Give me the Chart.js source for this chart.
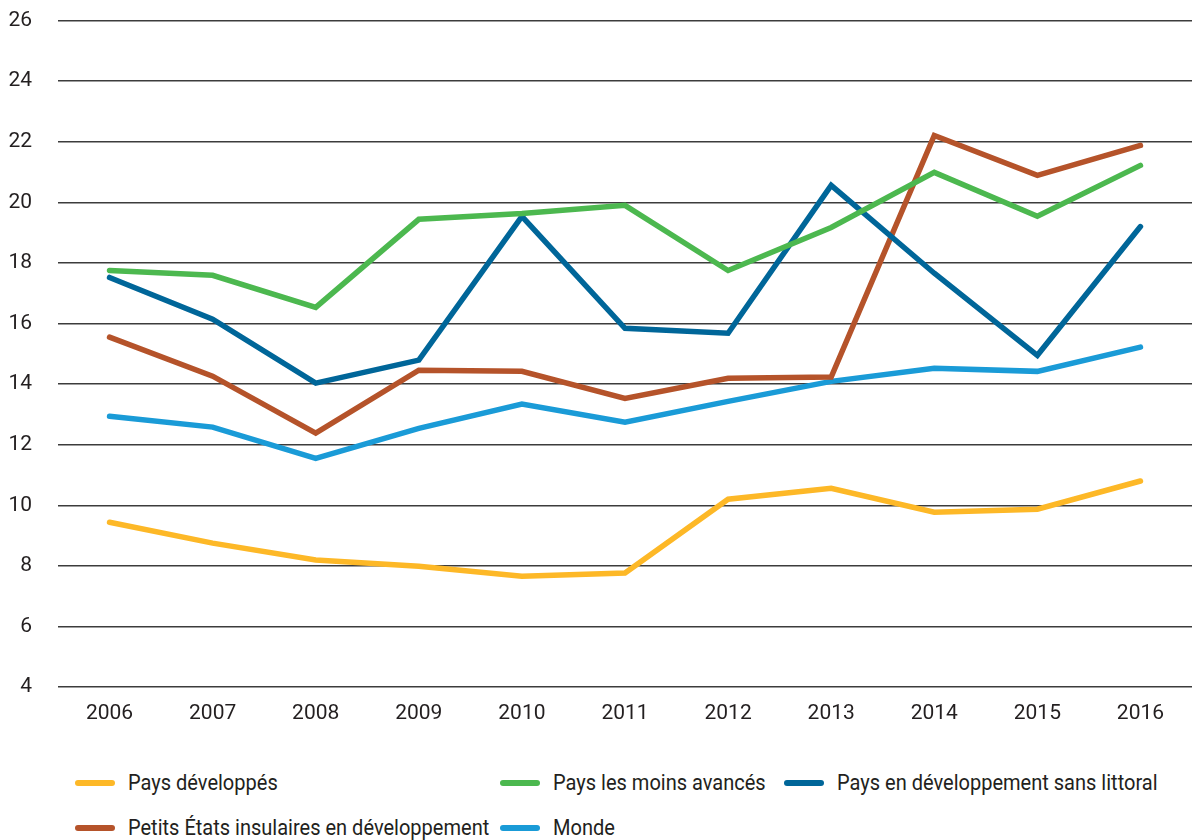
<!DOCTYPE html>
<html lang="fr">
<head>
<meta charset="utf-8">
<script src="https://cdn.jsdelivr.net/npm/chart.js@4"></script>
<style>
  html, body { margin: 0; padding: 0; background: #fff; }
  #wrap { position: relative; width: 1192px; height: 840px; overflow: hidden; font-family: "Roboto", "Liberation Sans", sans-serif; }
  #chartBox { position: absolute; left: 0; top: -18px; width: 1192px; height: 758px; }
  .leg { position: absolute; display: flex; align-items: center; font-size: 22px; color: #231f20; white-space: nowrap; }
  .leg .sw { width: 40px; height: 6px; border-radius: 3px; margin-right: 13px; }
  .leg .tx { display: inline-block; transform-origin: left center; transform: scaleX(0.91); }
</style>
</head>
<body>
<div id="wrap">
  <div id="chartBox"><canvas id="c" width="1192" height="758"></canvas></div>
  <div id="legend"></div>
</div>
<script>
// Years on the horizontal axis
const years = ['2006', '2007', '2008', '2009', '2010', '2011', '2012', '2013', '2014', '2015', '2016'];

// Series values
const paysDeveloppes = [9.44, 8.75, 8.19, 7.99, 7.66, 7.76, 10.2, 10.56, 9.77, 9.87, 10.8];
const paysMoinsAvances = [17.75, 17.59, 16.53, 19.44, 19.63, 19.9, 17.75, 19.17, 20.99, 19.54, 21.22];
const paysSansLittoral = [17.52, 16.14, 14.03, 14.79, 19.54, 15.84, 15.68, 20.56, 17.66, 14.95, 19.2];
const petitsEtatsInsulaires = [15.55, 14.26, 12.38, 14.46, 14.42, 13.53, 14.19, 14.23, 22.21, 20.89, 21.88];
const monde = [12.94, 12.58, 11.55, 12.54, 13.34, 12.74, 13.43, 14.09, 14.52, 14.42, 15.22];

// Y axis range and step
const yMin = 4, yMax = 26, yStep = 2;

const FONT = '"Roboto", "Liberation Sans", sans-serif';

const series = [
  { label: 'Pays développés', data: paysDeveloppes, color: '#fdb827' },
  { label: 'Pays les moins avancés', data: paysMoinsAvances, color: '#4cb84f' },
  { label: 'Pays en développement sans littoral', data: paysSansLittoral, color: '#006699' },
  { label: 'Petits États insulaires en développement', data: petitsEtatsInsulaires, color: '#b5532a' },
  { label: 'Monde', data: monde, color: '#1a9bd7' }
];

// Drawing order: later datasets sit on top
const drawOrder = [4, 0, 3, 2, 1];

new Chart(document.getElementById('c'), {
  type: 'line',
  data: {
    labels: years,
    datasets: series.map((s, i) => ({
      label: s.label,
      data: s.data,
      borderColor: s.color,
      backgroundColor: s.color,
      borderWidth: 5.5,
      borderCapStyle: 'round',
      borderJoinStyle: 'miter',
      pointRadius: 0,
      tension: 0,
      order: drawOrder.length - drawOrder.indexOf(i)
    }))
  },
  options: {
    responsive: false,
    animation: false,
    layout: { padding: { top: 2, right: 0, left: 0, bottom: 0 } },
    plugins: { legend: { display: false }, tooltip: { enabled: false } },
    scales: {
      x: {
        offset: true,
        grid: { display: false, drawTicks: false },
        border: { display: false },
        ticks: { color: '#231f20', font: { family: FONT, size: 21 }, padding: 14, maxRotation: 0 },
        afterFit: (scale) => { scale.height = 53; }
      },
      y: {
        min: yMin,
        max: yMax,
        grid: { color: '#3c3c3c', lineWidth: 1.4, drawTicks: false },
        border: { display: false },
        ticks: { stepSize: yStep, color: '#231f20', font: { family: FONT, size: 21 }, padding: 26 },
        afterFit: (scale) => { scale.width = 58; }
      }
    }
  }
});

// Legend built from the datasets
const legendPos = [
  { left: 75, top: 770 },
  { left: 500, top: 770 },
  { left: 784, top: 770 },
  { left: 75, top: 815 },
  { left: 500, top: 815 }
];
const legendEl = document.getElementById('legend');
series.forEach((s, i) => {
  const item = document.createElement('div');
  item.className = 'leg';
  item.style.left = legendPos[i].left + 'px';
  item.style.top = legendPos[i].top + 'px';
  const sw = document.createElement('span');
  sw.className = 'sw';
  sw.style.background = s.color;
  const tx = document.createElement('span');
  tx.className = 'tx';
  tx.textContent = s.label;
  item.appendChild(sw);
  item.appendChild(tx);
  legendEl.appendChild(item);
});
</script>
</body>
</html>
